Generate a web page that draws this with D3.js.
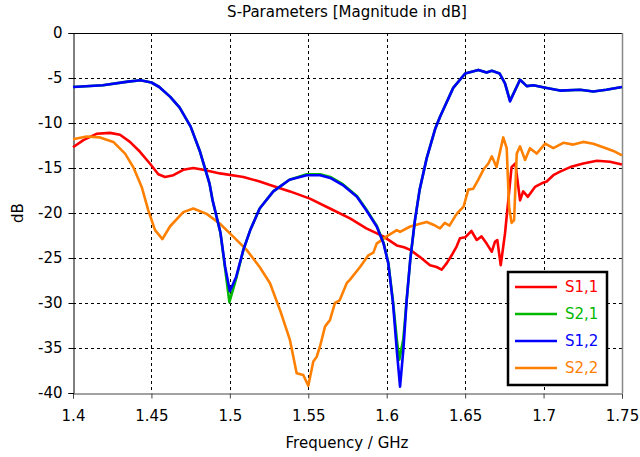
<!DOCTYPE html>
<html>
<head>
<meta charset="utf-8">
<script src="https://cdn.jsdelivr.net/npm/d3@7"></script>
<style>
  body { margin: 0; background: #fff; }
  text { font-family: "DejaVu Sans", Verdana, sans-serif; }
</style>
</head>
<body>
<div id="chart"></div>
<script>
// frequency (GHz), magnitude (dB)
const s11 = [[1.400,-12.7],[1.4066,-11.9],[1.415,-11.2],[1.4236,-11.1],[1.430,-11.3],[1.4363,-12.1],[1.4427,-13.2],[1.449,-14.5],[1.4544,-15.7],[1.4587,-16.0],[1.464,-15.8],[1.4703,-15.2],[1.4767,-15.0],[1.483,-15.2],[1.4937,-15.6],[1.5086,-16.0],[1.519,-16.5],[1.5256,-16.9],[1.5383,-17.6],[1.551,-18.4],[1.5638,-19.5],[1.5766,-20.6],[1.587,-21.7],[1.5978,-22.6],[1.6064,-23.6],[1.611,-23.8],[1.615,-24.1],[1.6212,-24.9],[1.6276,-25.8],[1.6318,-26.0],[1.635,-26.3],[1.6382,-25.6],[1.6414,-24.7],[1.6446,-23.7],[1.6467,-22.8],[1.650,-22.7],[1.654,-22.0],[1.6574,-23.0],[1.6605,-22.6],[1.6637,-23.4],[1.667,-24.3],[1.669,-23.2],[1.6705,-23.0],[1.6727,-25.8],[1.6754,-22.3],[1.6775,-18.6],[1.6796,-14.9],[1.682,-14.5],[1.685,-18.6],[1.687,-17.6],[1.690,-18.2],[1.6945,-17.1],[1.6988,-16.7],[1.702,-16.5],[1.7062,-15.8],[1.7105,-15.4],[1.717,-14.9],[1.7253,-14.5],[1.734,-14.2],[1.7423,-14.3],[1.750,-14.6]];

const s21 = [[1.400,-6.0],[1.419,-5.8],[1.435,-5.4],[1.443,-5.25],[1.450,-5.5],[1.455,-6.0],[1.462,-7.1],[1.468,-8.3],[1.475,-10.4],[1.481,-13.2],[1.487,-16.7],[1.489,-18.6],[1.494,-22.2],[1.497,-26.2],[1.4997,-29.9],[1.504,-27.3],[1.5086,-24.1],[1.513,-21.9],[1.519,-19.5],[1.5277,-17.6],[1.538,-16.3],[1.549,-15.7],[1.5575,-15.7],[1.564,-16.0],[1.572,-16.8],[1.581,-18.1],[1.587,-19.6],[1.5936,-21.4],[1.598,-23.3],[1.601,-25.5],[1.604,-29.8],[1.6064,-34.0],[1.608,-36.3],[1.6106,-34.0],[1.6127,-29.7],[1.615,-25.2],[1.618,-20.8],[1.621,-17.4],[1.6255,-13.9],[1.631,-10.6],[1.634,-9.3],[1.6424,-6.1],[1.650,-4.5],[1.6584,-4.1],[1.6637,-4.4],[1.667,-4.2],[1.672,-4.5],[1.6754,-5.6],[1.6786,-7.5],[1.682,-6.3],[1.685,-5.2],[1.6893,-5.9],[1.6935,-5.8],[1.702,-6.1],[1.7105,-6.4],[1.7233,-6.3],[1.7317,-6.5],[1.740,-6.3],[1.750,-6.0]];

const s12 = [[1.400,-6.0],[1.419,-5.8],[1.435,-5.4],[1.443,-5.25],[1.450,-5.5],[1.455,-6.0],[1.462,-7.1],[1.468,-8.3],[1.475,-10.4],[1.481,-13.2],[1.487,-16.7],[1.489,-18.6],[1.494,-22.2],[1.497,-26.0],[1.500,-28.7],[1.504,-27.1],[1.5086,-24.1],[1.513,-21.9],[1.519,-19.5],[1.5277,-17.6],[1.538,-16.3],[1.549,-15.8],[1.5575,-15.8],[1.564,-16.1],[1.572,-16.9],[1.581,-18.2],[1.587,-19.7],[1.5936,-21.5],[1.598,-23.4],[1.601,-25.6],[1.604,-30.0],[1.6064,-35.2],[1.6085,-39.3],[1.6106,-35.2],[1.6127,-29.7],[1.615,-25.2],[1.618,-20.8],[1.621,-17.4],[1.6255,-13.9],[1.631,-10.6],[1.634,-9.3],[1.6424,-6.1],[1.650,-4.5],[1.6584,-4.1],[1.6637,-4.4],[1.667,-4.2],[1.672,-4.5],[1.6754,-5.6],[1.6786,-7.6],[1.682,-6.3],[1.685,-5.2],[1.6893,-5.9],[1.6935,-5.8],[1.702,-6.1],[1.7105,-6.4],[1.7233,-6.3],[1.7317,-6.5],[1.740,-6.3],[1.750,-6.0]];

const s22 = [[1.400,-11.8],[1.4087,-11.5],[1.4172,-11.6],[1.4257,-12.1],[1.4332,-13.4],[1.4384,-14.9],[1.4438,-17.1],[1.448,-19.7],[1.4523,-21.9],[1.457,-22.9],[1.4618,-21.5],[1.4703,-19.9],[1.4767,-19.5],[1.4852,-20.1],[1.4937,-21.2],[1.502,-22.6],[1.5107,-24.1],[1.519,-26.0],[1.5256,-27.8],[1.532,-30.8],[1.5383,-34.1],[1.5426,-37.8],[1.5468,-38.0],[1.550,-39.2],[1.5532,-36.5],[1.5553,-36.0],[1.5575,-34.8],[1.5607,-32.6],[1.5638,-31.9],[1.567,-30.0],[1.570,-29.7],[1.5745,-27.8],[1.5766,-27.4],[1.583,-26.0],[1.5883,-24.7],[1.5915,-24.4],[1.5936,-23.4],[1.600,-22.6],[1.6064,-21.9],[1.6085,-22.1],[1.615,-21.5],[1.6212,-21.2],[1.6255,-21.0],[1.6297,-21.3],[1.634,-21.7],[1.637,-21.1],[1.640,-21.4],[1.6435,-20.4],[1.6456,-19.9],[1.649,-19.3],[1.652,-17.4],[1.6552,-17.3],[1.6584,-16.3],[1.6616,-15.2],[1.6648,-14.5],[1.667,-13.7],[1.670,-14.9],[1.6743,-11.6],[1.6765,-12.8],[1.678,-19.3],[1.6796,-21.1],[1.6812,-20.8],[1.6829,-13.4],[1.685,-12.6],[1.6882,-14.1],[1.6913,-12.8],[1.6956,-13.4],[1.701,-12.3],[1.7062,-12.8],[1.7126,-12.2],[1.719,-12.4],[1.7253,-12.1],[1.7317,-12.3],[1.738,-12.7],[1.7445,-13.1],[1.750,-13.6]];

const seriesNames = ["S1,1", "S2,1", "S1,2", "S2,2"];
const seriesColors = ["#ff0000", "#00b800", "#0000ff", "#ff8000"];
const xTicks = [1.4, 1.45, 1.5, 1.55, 1.6, 1.65, 1.7, 1.75];
const yTicks = [0, -5, -10, -15, -20, -25, -30, -35, -40];

const width = 640, height = 457;
const margin = {top: 33, right: 18, bottom: 64, left: 73};

const svg = d3.select("#chart").append("svg")
    .attr("width", width)
    .attr("height", height)
    .style("background", "#fff");

const x = d3.scaleLinear().domain([1.4, 1.75]).range([margin.left, width - margin.right]);
const y = d3.scaleLinear().domain([-40, 0]).range([height - margin.bottom, margin.top]);

// dashed grid
svg.append("g").selectAll("line")
    .data(xTicks.slice(1, -1))
    .join("line")
    .attr("x1", d => Math.round(x(d)) + 0.5).attr("x2", d => Math.round(x(d)) + 0.5)
    .attr("y1", y(0)).attr("y2", y(-40))
    .attr("stroke", "#000").attr("stroke-dasharray", "3,3");
svg.append("g").selectAll("line")
    .data(yTicks.slice(1, -1))
    .join("line")
    .attr("y1", d => Math.round(y(d)) + 0.5).attr("y2", d => Math.round(y(d)) + 0.5)
    .attr("x1", x(1.4)).attr("x2", x(1.75))
    .attr("stroke", "#000").attr("stroke-dasharray", "3,3");

// frame: top black, right grey
svg.append("line")
    .attr("x1", x(1.4)).attr("x2", x(1.75))
    .attr("y1", y(0) + 0.5).attr("y2", y(0) + 0.5)
    .attr("stroke", "#000");
svg.append("line")
    .attr("x1", x(1.75) + 0.5).attr("x2", x(1.75) + 0.5)
    .attr("y1", y(0)).attr("y2", y(-40))
    .attr("stroke", "#888").attr("stroke-width", 1.5);

const xAxis = svg.append("g")
    .attr("transform", `translate(0,${y(-40) + 0.5})`)
    .call(d3.axisBottom(x).tickValues(xTicks).tickFormat(d => String(d)).tickSize(5).tickPadding(12));
xAxis.select(".domain").attr("stroke", "#444");
xAxis.selectAll(".tick line").attr("stroke", "#444");

const yAxis = svg.append("g")
    .attr("transform", `translate(${x(1.4) + 0.5},0)`)
    .call(d3.axisLeft(y).tickValues(yTicks).tickFormat(d => String(d)).tickSize(5).tickPadding(6));
yAxis.select(".domain").attr("stroke", "#000");

svg.selectAll(".tick text")
    .style("font-family", "'DejaVu Sans', Verdana, sans-serif")
    .style("font-size", "15px")
    .attr("fill", "#000");

// curves
const line = d3.line().x(d => x(d[0])).y(d => y(d[1]));
const seriesData = [s11, s22, s21, s12];
const seriesIdx = [0, 3, 1, 2];
seriesData.forEach((data, i) => {
    svg.append("path")
        .datum(data)
        .attr("d", line)
        .attr("fill", "none")
        .attr("stroke", seriesColors[seriesIdx[i]])
        .attr("stroke-width", 2.6)
        .attr("stroke-linejoin", "round");
});

// titles
svg.append("text")
    .attr("x", 347).attr("y", 17)
    .attr("text-anchor", "middle")
    .style("font-size", "15px")
    .text("S-Parameters [Magnitude in dB]");
svg.append("text")
    .attr("x", 347).attr("y", 448)
    .attr("text-anchor", "middle")
    .style("font-size", "15px")
    .text("Frequency / GHz");
svg.append("text")
    .attr("transform", "translate(23,213) rotate(-90)")
    .attr("text-anchor", "middle")
    .style("font-size", "15px")
    .text("dB");

// legend
const legend = svg.append("g");
legend.append("rect")
    .attr("x", 508).attr("y", 272)
    .attr("width", 99).attr("height", 113)
    .attr("fill", "#fff")
    .attr("stroke", "#000").attr("stroke-width", 2.5);
seriesNames.forEach((name, i) => {
    const ly = 287 + i * 27;
    legend.append("line")
        .attr("x1", 515).attr("x2", 557)
        .attr("y1", ly).attr("y2", ly)
        .attr("stroke", seriesColors[i]).attr("stroke-width", 2.6);
    legend.append("text")
        .attr("x", 565).attr("y", ly)
        .attr("dy", "0.36em")
        .style("font-size", "15px")
        .attr("fill", seriesColors[i])
        .text(name);
});
</script>
</body>
</html>
